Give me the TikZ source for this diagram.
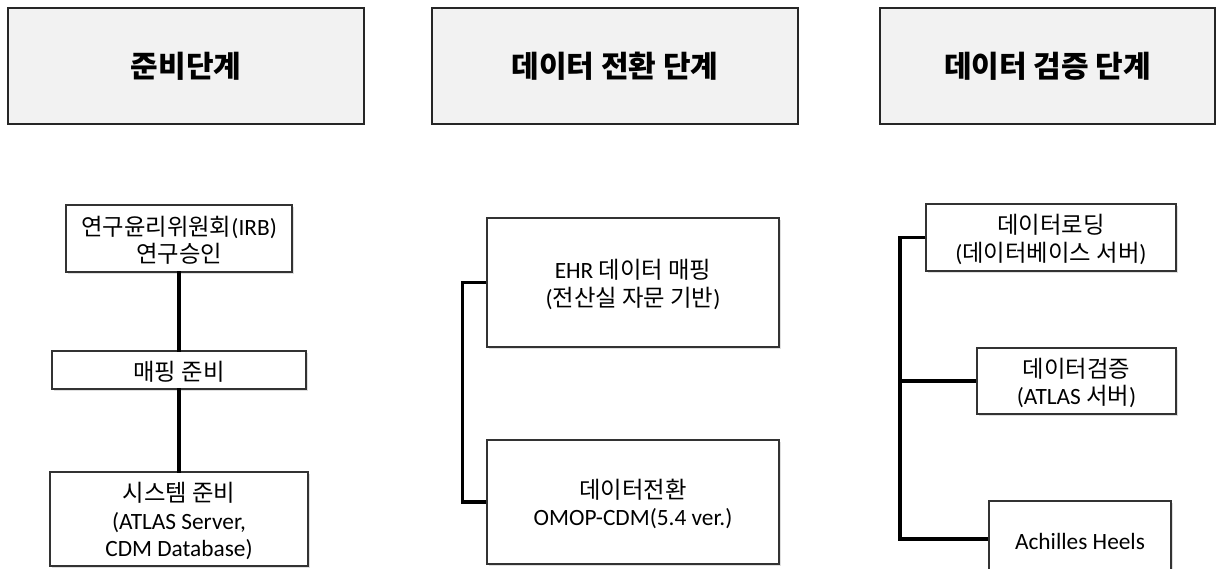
\documentclass[tikz,border=0pt]{standalone}
\usepackage{fontspec}
\setmainfont{Noto Sans CJK KR}
\newfontfamily\lat{Carlito}
\usetikzlibrary{fit,shadows}
\definecolor{hdrfill}{HTML}{F2F2F2}
\begin{document}
\begin{tikzpicture}[x=0.75pt,y=-0.75pt,
  hbox/.style={draw=black!85, line width=1.1pt, fill=hdrfill, inner sep=0pt,
    drop shadow={shadow xshift=0.8pt, shadow yshift=-0.8pt, opacity=0.6, fill=black!60}},
  htext/.style={inner sep=0pt, anchor=center,
    font=\fontsize{22.5}{26}\selectfont\bfseries},
  bbox/.style={draw=black!80, line width=0.9pt, fill=white, inner sep=0pt,
    drop shadow={shadow xshift=1.2pt, shadow yshift=-1.2pt, opacity=0.25, fill=black!50}},
  btext/.style={inner sep=0pt, anchor=center, align=center, yshift=-1.5pt,
    font=\fontsize{17.5}{20.5}\selectfont},
  conn/.style={line width=2.3pt, line cap=rect}]
\useasboundingbox (0,0) rectangle (1217,568);
\clip (0,0) rectangle (1217,568);
% headers
\node[hbox, fit={(8,8) (364,124)}] (h1) {};
\node[htext] (h1t) at (h1.center) {준비단계};
\node[hbox, fit={(432,8) (798,124)}] (h2) {};
\node[htext] (h2t) at (h2.center) {데이터 전환 단계};
\node[hbox, fit={(880,8) (1215,124)}] (h3) {};
\node[htext] (h3t) at (h3.center) {데이터 검증 단계};
% left column
\node[bbox, fit={(66,205) (292,272)}] (irb) {};
\node[btext] (irbt) at (irb.center) {연구윤리위원회{\lat (IRB)}\\연구승인};
\node[bbox, fit={(52,351) (306,389)}] (map) {};
\node[btext] (mapt) at (map.center) {매핑 준비};
\node[bbox, fit={(50,472) (308,566)}] (sys) {};
\node[btext] (syst) at (sys.center) {시스템 준비\\{\lat (ATLAS Server,}\\{\lat CDM Database)}};
\draw[conn] (irb.south) -- (map.north);
\draw[conn] (map.south) -- (sys.north);
% middle column
\node[bbox, fit={(487,218) (779,347)}] (ehr) {};
\node[btext] (ehrt) at (ehr.center) {{\lat EHR} 데이터 매핑\\{\lat (}전산실 자문 기반{\lat )}};
\node[bbox, fit={(487,440) (779,564)}] (conv) {};
\node[btext] (convt) at (conv.center) {데이터전환\\{\lat OMOP-CDM(5.4 ver.)}};
\draw[conn, line width=2.7pt, line cap=butt] (ehr.west) -- ++(-24,0) |- (conv.west);
% right column
\coordinate (trunk) at (900,0);
\node[bbox, fit={(926,204) (1176,271)}] (load) {};
\node[btext] (loadt) at (load.center) {데이터로딩\\{\lat (}데이터베이스 서버{\lat )}};
\node[bbox, fit={(977,348) (1176,414)}] (val) {};
\node[btext] (valt) at (val.center) {데이터검증\\{\lat (ATLAS }서버{\lat )}};
\node[bbox, fit={(989,501) (1171,577)}] (ach) {};
\node[btext] (acht) at (ach.center) {{\lat Achilles Heels}};
\draw[conn, line cap=butt] (load.west) -- (load.west -| trunk) |- (ach.west);
\draw[conn, line cap=butt] (val.west) -- (val.west -| trunk);
\end{tikzpicture}
\end{document}
